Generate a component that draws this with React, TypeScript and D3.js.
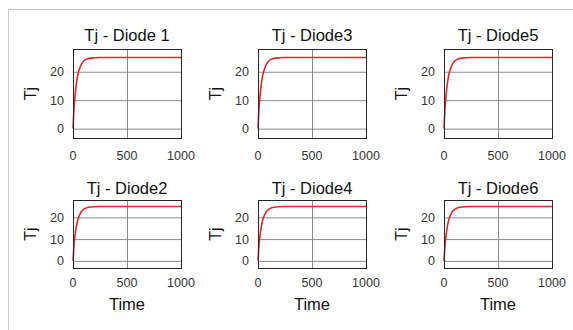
import React, { useEffect, useRef } from 'react';
import * as d3 from 'd3';

// panel titles, column by column (top, bottom)
const titles = ['Tj - Diode 1', 'Tj - Diode2', 'Tj - Diode3', 'Tj - Diode4', 'Tj - Diode5', 'Tj - Diode6'];
const timeValues = [0, 5, 10, 20, 30, 40, 50, 60, 80, 100, 125, 150, 200, 250, 300, 400, 500, 600, 700, 800, 900, 1000];
const tjValues = [0, 4, 7.5, 12, 15.5, 18, 19.8, 21, 22.8, 23.8, 24.4, 24.7, 24.9, 25, 25, 25, 25, 25, 25, 25, 25, 25];
const xTicks = [0, 500, 1000];
const yTicks = [0, 10, 20];

export default function App() {
    const ref = useRef<SVGSVGElement>(null);

    useEffect(() => {
        if (!ref.current) return;
        const svg = d3.select(ref.current);
        svg.selectAll('*').remove();

        const width = 573;
        const height = 330;
        svg.attr('width', width).attr('height', height);

        svg.append('rect').attr('width', width).attr('height', height).attr('fill', '#fff');
        // figure frame
        svg.append('rect')
            .attr('x', 8.5).attr('y', 9.5)
            .attr('width', width).attr('height', height)
            .attr('fill', 'none').attr('stroke', '#c8c8c8');

        const colLeft = [73, 258, 444];
        const boxW = 108;
        const rows = [
            { top: 49, bottom: 138, titleY: 41, tickY: 160 },
            { top: 200, bottom: 268, titleY: 194, tickY: 287 }
        ];
        const font = 'Arial, "Liberation Sans", sans-serif';

        titles.forEach((title, i) => {
            const col = Math.floor(i / 2);
            const row = rows[i % 2];
            const left = colLeft[col];

            const x = d3.scaleLinear().domain([0, 1000]).range([left, left + boxW]);
            const y = d3.scaleLinear().domain([-3.3, 28]).range([row.bottom, row.top]);

            const g = svg.append('g');

            // grid
            g.selectAll('line.hgrid').data(yTicks).enter().append('line')
                .attr('x1', left).attr('x2', left + boxW)
                .attr('y1', d => y(d) + 0.5).attr('y2', d => y(d) + 0.5)
                .attr('stroke', '#8a8a8a').attr('stroke-width', 1);
            g.append('line')
                .attr('x1', x(500) + 0.5).attr('x2', x(500) + 0.5)
                .attr('y1', row.top).attr('y2', row.bottom)
                .attr('stroke', '#8a8a8a').attr('stroke-width', 1);

            // curve
            const line = d3.line<number>()
                .x((_, k) => x(timeValues[k]))
                .y(d => y(d))
                .curve(d3.curveMonotoneX);
            g.append('path')
                .attr('d', line(tjValues))
                .attr('fill', 'none')
                .attr('stroke', '#e0282c')
                .attr('stroke-width', 1.6);

            // box
            g.append('rect')
                .attr('x', left + 0.5).attr('y', row.top + 0.5)
                .attr('width', boxW).attr('height', row.bottom - row.top)
                .attr('fill', 'none').attr('stroke', '#262626').attr('stroke-width', 1);

            // tick labels
            g.selectAll('text.xt').data(xTicks).enter().append('text')
                .attr('x', d => x(d)).attr('y', row.tickY)
                .attr('text-anchor', 'middle')
                .attr('font-family', font).attr('font-size', 12.5).attr('fill', '#333')
                .text(d => d);
            g.selectAll('text.yt').data(yTicks).enter().append('text')
                .attr('x', left - 9).attr('y', d => y(d) + 4.5)
                .attr('text-anchor', 'end')
                .attr('font-family', font).attr('font-size', 12.5).attr('fill', '#333')
                .text(d => d);

            // title
            g.append('text')
                .attr('x', left + boxW / 2).attr('y', row.titleY)
                .attr('text-anchor', 'middle')
                .attr('font-family', font).attr('font-size', 16.5).attr('fill', '#111')
                .text(title);

            // y label
            const cy = (row.top + row.bottom) / 2;
            g.append('text')
                .attr('transform', `translate(${left - 37},${cy}) rotate(-90)`)
                .attr('text-anchor', 'middle')
                .attr('font-family', font).attr('font-size', 16).attr('fill', '#111')
                .text('Tj');

            if (i % 2 === 1) {
                g.append('text')
                    .attr('x', left + boxW / 2).attr('y', 310)
                    .attr('text-anchor', 'middle')
                    .attr('font-family', font).attr('font-size', 16.5).attr('fill', '#111')
                    .text('Time');
            }
        });
    }, []);

    return <svg ref={ref} style={{ position: 'fixed', left: 0, top: 0, display: 'block' }} />;
}
